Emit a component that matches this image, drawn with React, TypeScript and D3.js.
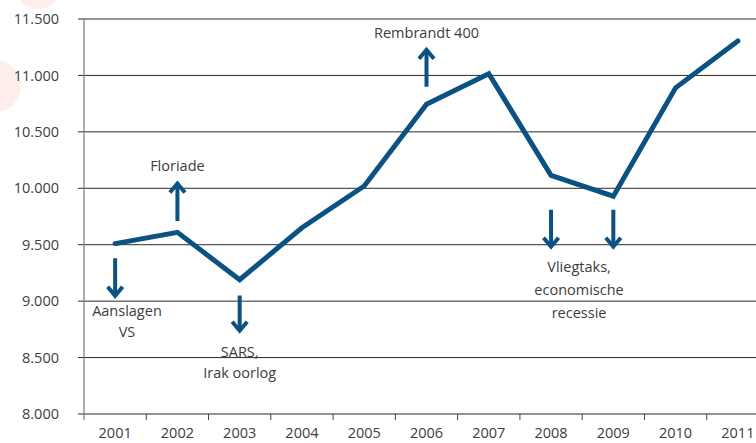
import React from 'react';
import * as d3 from 'd3';

const years = ['2001', '2002', '2003', '2004', '2005', '2006', '2007', '2008', '2009', '2010', '2011'];
const visitors = [9510, 9610, 9190, 9650, 10020, 10745, 11015, 10115, 9930, 10890, 11305];
const yTicks = [8000, 8500, 9000, 9500, 10000, 10500, 11000, 11500];

// events: year, direction, arrow from/to value
const eventYears = ['2001', '2002', '2003', '2006', '2008', '2009'];
const eventDirs = ['down', 'up', 'down', 'up', 'down', 'down'];
const eventFrom = [9380, 9710, 9050, 10900, 9810, 9810];
const eventTo = [9030, 10060, 8720, 11245, 9465, 9465];

// annotation labels: lines, year, shift within band, baseline value
const labelTexts = [['Aanslagen', 'VS'], ['Floriade'], ['SARS,', 'Irak oorlog'], ['Rembrandt 400'], ['Vliegtaks,', 'economische', 'recessie']];
const labelYears = ['2001', '2002', '2003', '2006', '2008'];
const labelShift = [0.19, 0, 0, 0, 0.45];
const labelValue = [8870, 10150, 8505, 11330, 9258];
const labelGap = [21, 21, 21, 21, 23];

const width = 756;
const height = 443;
const margin = { left: 84, right: -13, top: 19, bottom: 29 };

const fmt = (v: number) => d3.format(',')(v).replace(',', '.');

export default function App() {
  const x = d3.scaleBand<string>()
    .domain(years)
    .range([margin.left, width - margin.right])
    .padding(0);
  const y = d3.scaleLinear()
    .domain([8000, 11500])
    .range([height - margin.bottom, margin.top]);
  const cx = (yr: string) => (x(yr) as number) + x.bandwidth() / 2;

  const line = d3.line<number>()
    .x((_, i) => cx(years[i]))
    .y(d => y(d));

  const blue = '#0b5283';
  const textCol = '#3d3d3d';
  const font = "'Open Sans', sans-serif";
  const fs = 14.5;

  return (
    <svg width={width} height={height} style={{ position: 'absolute', left: 0, top: 0 }}>
      <rect width={width} height={height} fill="#fff" />
      <circle cx={38} cy={-15} r={24} fill="#fdeeec" />
      <circle cx={-5} cy={86} r={26} fill="#fdeeec" />

      {yTicks.map(t => (
        <g key={t}>
          <line x1={margin.left - 6} x2={width} y1={y(t)} y2={y(t)} stroke="#2b2b2b" strokeWidth={1} />
          <text x={59} y={y(t)} dy="0.35em" textAnchor="end" fontSize={fs} fill={textCol} fontFamily={font}>{fmt(t)}</text>
        </g>
      ))}
      <line x1={margin.left} x2={margin.left} y1={y(11500)} y2={y(8000) + 6} stroke="#777" strokeWidth={1.2} />

      {years.map(yr => (
        <g key={yr}>
          <line x1={(x(yr) as number) + x.bandwidth()} x2={(x(yr) as number) + x.bandwidth()} y1={y(8000)} y2={y(8000) + 6} stroke="#444" />
          <text x={cx(yr)} y={y(8000) + 24} textAnchor="middle" fontSize={fs} fill={textCol} fontFamily={font}>{yr}</text>
        </g>
      ))}

      <path d={line(visitors) as string} fill="none" stroke={blue} strokeWidth={5} strokeLinejoin="miter" strokeLinecap="round" />

      {eventYears.map((yr, i) => {
        const px = cx(yr);
        const y0 = y(eventFrom[i]);
        const y1 = y(eventTo[i]);
        const s = eventDirs[i] === 'down' ? -1 : 1;
        return (
          <g key={i} stroke={blue} strokeWidth={4} fill="none">
            <line x1={px} x2={px} y1={y0} y2={y1 + s * 2} />
            <path d={`M${px - 7.5},${y1 + s * 11}L${px},${y1 + s * 2}L${px + 7.5},${y1 + s * 11}`} strokeLinejoin="miter" />
          </g>
        );
      })}

      {labelTexts.map((lines, i) => {
        const px = cx(labelYears[i]) + labelShift[i] * x.bandwidth();
        return (
          <text key={i} x={px} y={y(labelValue[i])} textAnchor="middle" fontSize={fs} fill={textCol} fontFamily={font}>
            {lines.map((l, j) => (
              <tspan key={j} x={px} dy={j === 0 ? 0 : labelGap[i]}>{l}</tspan>
            ))}
          </text>
        );
      })}
    </svg>
  );
}
